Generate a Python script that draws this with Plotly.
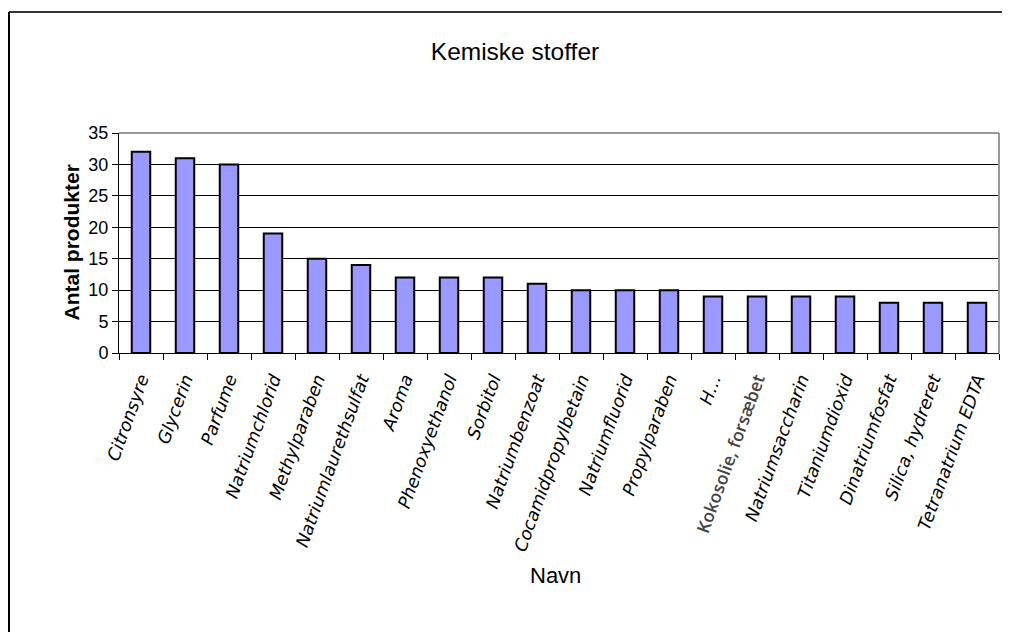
import plotly.graph_objects as go

categories = ["Citronsyre", "Glycerin", "Parfume", "Natriumchlorid", "Methylparaben",
              "Natriumlaurethsulfat", "Aroma", "Phenoxyethanol", "Sorbitol", "Natriumbenzoat",
              "Cocamidpropylbetain", "Natriumfluorid", "Propylparaben", "H…",
              "Kokosolie, forsæbet", "Natriumsaccharin", "Titaniumdioxid", "Dinatriumfosfat",
              "Silica, hydreret", "Tetranatrium EDTA"]
values = [32, 31, 30, 19, 15, 14, 12, 12, 12, 11, 10, 10, 10, 9, 9, 9, 9, 8, 8, 8]
y_ticks = [0, 5, 10, 15, 20, 25, 30, 35]

OFF = 8  # page body margin
W, H = 1010 - OFF, 632 - OFF
# plot area in reference pixels
RL, RR, RT, RB = 119, 999, 133, 353
L, R, T, B = RL - OFF, RR - OFF, RT - OFF, RB - OFF

def px(v):  # reference x pixel -> paper
    return (v - RL) / (RR - RL)

def py(v):  # reference y pixel -> paper
    return (RB - v) / (RB - RT)

def lab(c):
    if c.startswith("Kokosolie"):
        return ('<span style="font-style:normal;font-family:Open Sans;fill:#444;'
                'font-weight:600">' + c + '</span>')
    return c

font = "Liberation Sans"
tick_font = "DejaVu Sans"

fig = go.Figure(go.Bar(
    x=categories, y=values,
    marker=dict(color="#9999FF", line=dict(color="black", width=2)),
    width=0.42,
))

fig.update_layout(
    width=W, height=H,
    margin=dict(l=L, r=W - R, t=T, b=H - B, autoexpand=False),
    paper_bgcolor="white", plot_bgcolor="white",
    showlegend=False,
    font=dict(family=font, color="black"),
    title=dict(text="Kemiske stoffer", x=(515 - OFF) / W, xref="container", xanchor="center",
               y=1 - (51 - OFF) / H, yref="container", yanchor="middle",
               font=dict(size=24.5, family=font, color="black")),
    xaxis=dict(
        type="category", tickmode="array", tickvals=categories,
        ticktext=[lab(c) for c in categories],
        tickangle=-70, tickfont=dict(size=17.5, style="italic", family=tick_font),
        ticks="outside", ticklen=6, tickcolor="black", tickson="boundaries",
        showline=True, linecolor="black", linewidth=1,
        showgrid=False, zeroline=False, range=[-0.5, 19.5],
        ticklabelstandoff=8,
    ),
    yaxis=dict(
        range=[0, 35], tickmode="array", tickvals=y_ticks,
        tickfont=dict(size=18, family=font),
        ticks="outside", ticklen=6, tickcolor="black",
        showline=True, linecolor="black", linewidth=1,
        showgrid=True, gridcolor="black", gridwidth=1, zeroline=False,
    ),
)

# grey plot-area border (top & right)
fig.add_shape(type="line", xref="paper", yref="paper", x0=0, x1=1, y0=1, y1=1,
              line=dict(color="#999999", width=2))
fig.add_shape(type="line", xref="paper", yref="paper", x0=1, x1=1, y0=0, y1=1,
              line=dict(color="#999999", width=2))

# outer chart border (top and left visible)
fig.add_shape(type="line", xref="paper", yref="paper", x0=px(9), x1=px(1030), y0=py(12), y1=py(12),
              line=dict(color="#333333", width=2))
fig.add_shape(type="line", xref="paper", yref="paper", x0=px(9), x1=px(9), y0=py(12), y1=py(660),
              line=dict(color="black", width=2))

fig.add_annotation(text="<b>Antal produkter</b>", x=px(57), y=py(243), xref="paper", yref="paper",
                   textangle=-90, showarrow=False, font=dict(size=21, family=font, color="black"))
fig.add_annotation(text="Navn", x=px(555), y=py(590), xref="paper", yref="paper",
                   showarrow=False, font=dict(size=22, family=font, color="black"))

fig.write_html("out.html")
